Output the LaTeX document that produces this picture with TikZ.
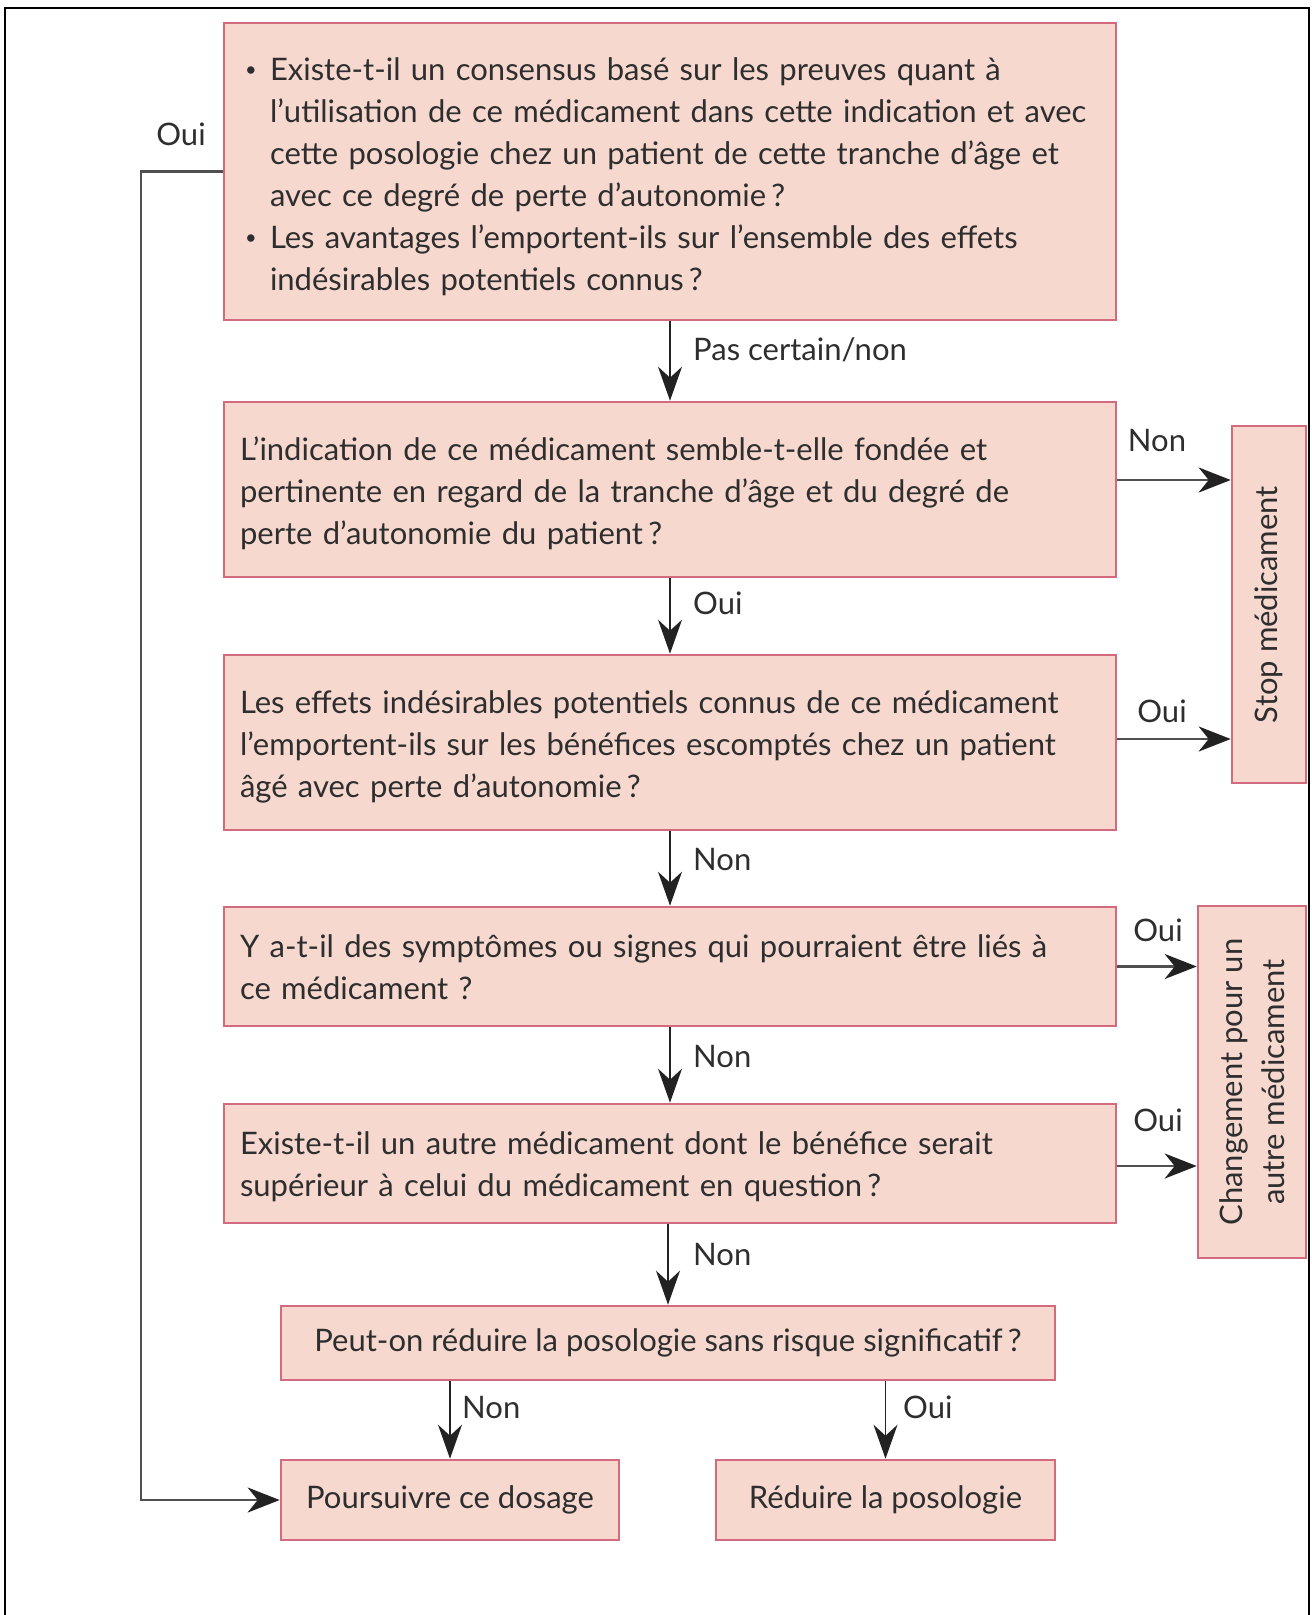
\documentclass[tikz,border=0pt]{standalone}
\usepackage{fontspec}
\setmainfont{Lato}[FakeStretch=1.0]
\usetikzlibrary{arrows.meta}
\definecolor{boxfill}{HTML}{F6D8CF}
\definecolor{boxline}{HTML}{D26B7D}
\definecolor{txt}{HTML}{2E2E2E}
\definecolor{arr}{HTML}{222222}
\definecolor{harr}{HTML}{505050}
\newcommand{\smallbullet}{\raisebox{0.28ex}{\fontsize{20}{20}\selectfont\textbullet}}
\newcommand{\lowered}[2]{\raisebox{0pt}[\dimexpr\height+#1\relax][\depth]{#2}}
\begin{document}
\begin{tikzpicture}[x=1pt,y=-1pt,
  box/.style={draw=boxline, fill=boxfill, line width=2.6pt, text=txt, inner ysep=0pt,
    font=\fontsize{31}{42}\selectfont},
  lbl/.style={text=txt, font=\fontsize{31}{36}\selectfont, inner sep=0pt},
  varrow/.style={draw=arr, line width=1.8pt, -{Stealth[length=34pt,width=24pt,inset=11pt]}},
  harrow/.style={draw=harr, line width=2.8pt, -{Stealth[length=32pt,width=25pt,inset=10pt,color=arr,fill=arr]}}]
\useasboundingbox (0,0) rectangle (1312,1615);
\fill[white] (0,0) rectangle (1312,1615);
\draw[line width=2pt] (5,1616) -- (5,8) -- (1309,8) -- (1309,1616);

% boxes
\node[box, minimum height=297, text width=870, inner xsep=11, align=left] (b1) at (670,171.5)
{\lowered{11pt}{\begin{tabular}{@{}p{35pt}@{}l@{}}
\hspace*{10pt}\smallbullet & Existe-t-il un consensus basé sur les preuves quant à\\
& l’utilisation de ce médicament dans cette indication et avec\\
& cette posologie chez un patient de cette tranche d’âge et\\
& avec ce degré de perte d’autonomie\,?\\
\hspace*{10pt}\smallbullet & Les avantages l’emportent-ils sur l’ensemble des effets\\
& indésirables potentiels connus\,?
\end{tabular}}};

\node[box, minimum height=175, text width=876, inner xsep=8, align=left] (b2) at (670,489.5)
{\lowered{9pt}{\begin{tabular}{@{\hspace{8pt}}l@{}}
L’indication de ce médicament semble-t-elle fondée et\\
pertinente en regard de la tranche d’âge et du degré de\\
perte d’autonomie du patient\,?
\end{tabular}}};

\node[box, minimum height=175, text width=876, inner xsep=8, align=left] (b3) at (670,742.5)
{\lowered{9pt}{\begin{tabular}{@{\hspace{8pt}}l@{}}
Les effets indésirables potentiels connus de ce médicament\\
l’emportent-ils sur les bénéfices escomptés chez un patient\\
âgé avec perte d’autonomie\,?
\end{tabular}}};

\node[box, minimum height=119, text width=876, inner xsep=8, align=left] (b4) at (670,966.5)
{\lowered{8pt}{\begin{tabular}{@{\hspace{8pt}}l@{}}
Y a-t-il des symptômes ou signes qui pourraient être liés à\\
ce médicament ?
\end{tabular}}};

\node[box, minimum height=119, text width=876, inner xsep=8, align=left] (b5) at (670,1163.5)
{\lowered{8pt}{\begin{tabular}{@{\hspace{8pt}}l@{}}
Existe-t-il un autre médicament dont le bénéfice serait\\
supérieur à celui du médicament en question\,?
\end{tabular}}};

\node[box, minimum width=774, minimum height=74, inner xsep=0, align=center] (b6) at (668,1343)
{Peut-on réduire la posologie sans risque significatif\,?};

\node[box, minimum width=338, minimum height=80, inner xsep=0] (b7) at (450,1500)
{Poursuivre ce dosage};

\node[box, minimum width=339, minimum height=80, inner xsep=0] (b8) at (885.5,1500)
{Réduire la posologie};

\node[box, rotate=90, minimum width=357, minimum height=74, inner xsep=0] (stop) at (1269,604.5)
{Stop médicament};

\node[box, rotate=90, minimum width=352, minimum height=108, inner xsep=0, align=center] (chg) at (1252,1082)
{Changement pour un\\autre médicament};

% vertical arrows
\draw[varrow] (b1.south) -- (b2.north);
\draw[varrow] (b2.south) -- (b3.north);
\draw[varrow] (b3.south) -- (b4.north);
\draw[varrow] (b4.south) -- (b5.north);
\draw[varrow] (b5.south -| b6.north) -- (b6.north);
\draw[varrow] (b6.south -| b7.north) -- (b7.north);
\draw[varrow] (b6.south -| b8.north) -- (b8.north);

% horizontal arrows
\draw[harrow] (b2.east |- 0,480) -- (stop.north |- 0,480);
\draw[harrow] (b3.east |- 0,739) -- (stop.north |- 0,739);
\draw[harrow] (b4.east) -- (b4.east -| chg.north);
\draw[harrow] (b5.east |- 0,1166) -- (chg.north |- 0,1166);

% left loop
\coordinate (lc) at (141,171.5);
\draw[harrow] (b1.west) -- (lc) |- (b7.west);

% labels
\node[lbl] (lOui1) at (181,134) {Oui};
\node[lbl, anchor=west] (l12) at (693,350) {Pas certain/non};
\node[lbl, anchor=west] (l23) at (693,603) {Oui};
\node[lbl, anchor=west] (l34) at (693,859) {Non};
\node[lbl, anchor=west] (l45) at (693,1056) {Non};
\node[lbl, anchor=west] (l56) at (693,1254) {Non};
\node[lbl] (l2s) at (1157,440) {Non};
\node[lbl] (l3s) at (1162,711) {Oui};
\node[lbl] (l4c) at (1158,930) {Oui};
\node[lbl] (l5c) at (1158,1120) {Oui};
\node[lbl, anchor=west] (l67) at (462,1407) {Non};
\node[lbl, anchor=west] (l68) at (903,1407) {Oui};
\end{tikzpicture}
\end{document}
